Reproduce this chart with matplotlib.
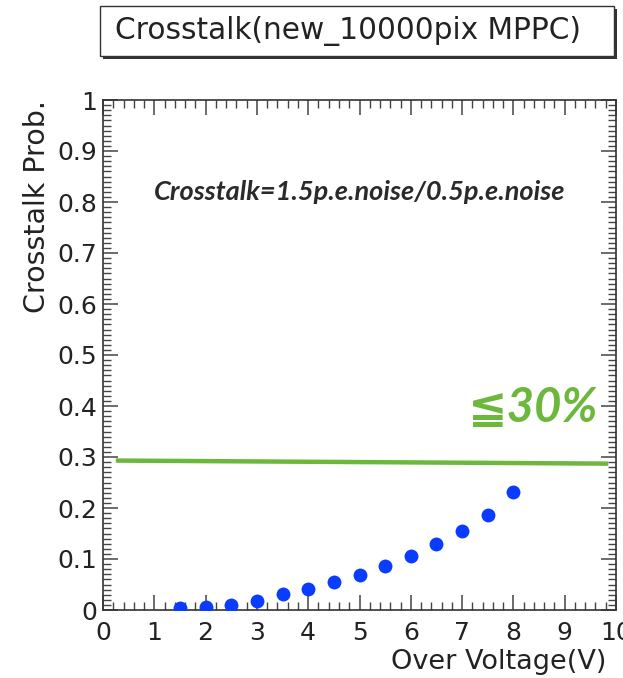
import matplotlib
matplotlib.use("Agg")
import matplotlib.pyplot as plt
from matplotlib.patches import Rectangle
from matplotlib.ticker import MultipleLocator

# Data
over_voltage = [1.5, 2.0, 2.5, 3.0, 3.5, 4.0, 4.5, 5.0, 5.5, 6.0, 6.5, 7.0, 7.5, 8.0]
crosstalk = [0.003, 0.005, 0.010, 0.018, 0.031, 0.041, 0.054, 0.069, 0.086, 0.106, 0.129, 0.155, 0.186, 0.231]
limit_x = [0.25, 9.85]
limit_y = [0.293, 0.287]
x_ticks = [0, 1, 2, 3, 4, 5, 6, 7, 8, 9, 10]
y_ticks = [0, 0.1, 0.2, 0.3, 0.4, 0.5, 0.6, 0.7, 0.8, 0.9, 1]
y_tick_labels = ["0", "0.1", "0.2", "0.3", "0.4", "0.5", "0.6", "0.7", "0.8", "0.9", "1"]

plt.rcParams['font.family'] = ['DejaVu Sans']

W, H = 623, 678
fig = plt.figure(figsize=(W / 100, H / 100), dpi=100)
ax = fig.add_axes([103 / W, 1 - 610 / H, (616 - 103) / W, (610 - 100) / H])

ax.plot(limit_x, limit_y, color='#6cb83c', lw=3.2, solid_capstyle='butt', zorder=2)
ax.plot(over_voltage, crosstalk, 'o', color='#0a3cff', markersize=10, markeredgewidth=0, zorder=3)

ax.set_xlim(0, 10)
ax.set_ylim(0, 1)
ax.set_xticks(x_ticks)
ax.set_xticklabels([str(v) for v in x_ticks])
ax.set_yticks(y_ticks)
ax.set_yticklabels(y_tick_labels)
ax.xaxis.set_minor_locator(MultipleLocator(0.2))
ax.yaxis.set_minor_locator(MultipleLocator(0.01))
ax.tick_params(which='both', direction='in', top=True, right=True, color='#444444')
ax.tick_params(which='major', length=11, width=1.1, labelsize=18, pad=4, labelcolor='#222222')
ax.tick_params(which='minor', length=5.5, width=1.0)
ax.tick_params(axis='x', which='major', pad=8)
for s in ax.spines.values():
    s.set_linewidth(1.2)
    s.set_color('#333333')

ax.set_xlabel('Over Voltage(V)', fontsize=19.5, color='#222222', ha='right', va='center')
ax.xaxis.set_label_coords((606 - 103) / 513, (610 - 662) / 510)
ax.set_ylabel('Crosstalk Prob.', fontsize=20.5, color='#222222', loc='top', labelpad=5)

ax.text(0.501, 0.82, 'Crosstalk=1.5p.e.noise/0.5p.e.noise', transform=ax.transAxes,
        ha='center', va='center', fontsize=19.5, fontstyle='italic', fontweight='bold',
        family=['Lato', 'DejaVu Sans'], color='#2a2a2a')
ax.text(0.965, 0.397, '\u226630%', transform=ax.transAxes, ha='right', va='center',
        fontsize=34, fontstyle='italic', fontweight='bold',
        family=['Lato', 'DejaVu Sans'], color='#6cb83c')

# Title box with shadow
bx0, by0, bx1, by1 = 100, 6, 614, 56
fig.patches.append(Rectangle((bx0 / W + 3 / W, 1 - (by1 + 3) / H), (bx1 - bx0) / W, (by1 - by0) / H,
                             transform=fig.transFigure, facecolor='#333333', edgecolor='none'))
fig.patches.append(Rectangle((bx0 / W, 1 - by1 / H), (bx1 - bx0) / W, (by1 - by0) / H,
                             transform=fig.transFigure, facecolor='white', edgecolor='#333333', lw=1.0))
fig.text(348 / W, 1 - 31 / H, 'Crosstalk(new_10000pix MPPC)', ha='center', va='center',
         fontsize=21.3, color='#222222')

fig.savefig('out.png', dpi=100)
